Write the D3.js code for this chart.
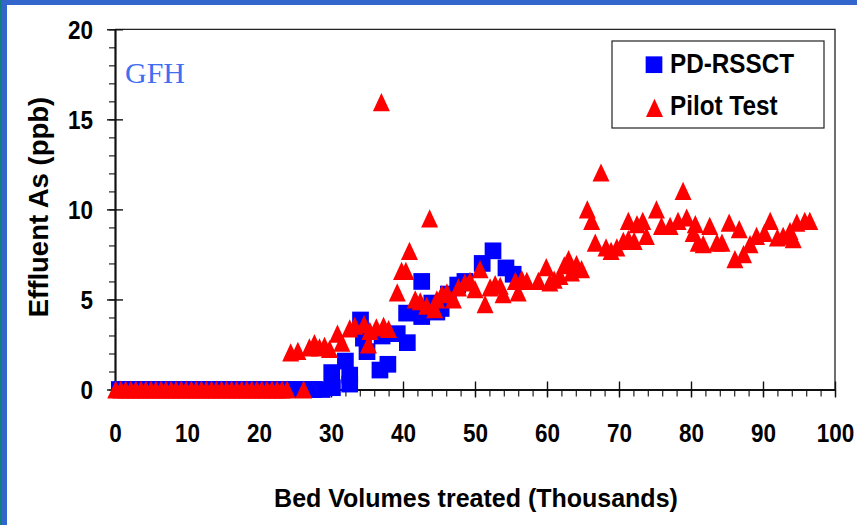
<!DOCTYPE html>
<html><head><meta charset="utf-8">
<script src="https://cdn.jsdelivr.net/npm/d3@7"></script>
<style>body{margin:0;background:#fff}svg{display:block}</style>
</head><body>
<svg id="chart" width="857" height="525"></svg>
<script>
// ---------- data ----------
const seriesNames = ["PD-RSSCT", "Pilot Test"];
const xTicks = [0,10,20,30,40,50,60,70,80,90,100];
const yTicks = [0,5,10,15,20];

const rssctX = [0.6,1.5,2.4,3.3,4.2,5.1,6.0,6.9,7.8,8.7,9.6,10.5,11.4,12.3,13.2,14.1,15.0,15.9,16.8,17.7,18.6,19.5,20.4,21.3,22.2,23.1,24.0,24.9,25.8,26.7,27.6,
  28.75,30.1,30.2,32.0,32.6,32.6,34.1,34.5,35.0,36.8,37.9,37.1,39.2,40.6,40.5,42.6,42.6,44.0,44.7,45.3,46.3,47.6,48.6,51.0,52.5,54.3,55.3];
const rssctY = [0,0,0,0,0,0,0,0,0,0,0,0,0,0,0,0,0,0,0,0,0,0,0,0,0,0,0,0,0,0,0,
  0,0.94,0.1,1.58,0.8,0.3,3.86,2.85,2.1,1.08,1.4,2.97,3.1,2.6,4.24,6.0,4.05,4.8,4.3,4.5,5.3,5.8,6.0,7.0,7.7,6.75,6.4];

const pilotX = [0.1,0.8,1.5,2.2,2.9,3.6,4.3,5.0,5.7,6.4,7.1,7.8,8.5,9.2,9.9,10.6,11.3,12.0,12.7,13.4,14.1,14.8,15.5,16.2,16.9,17.6,18.3,19.0,19.7,20.4,21.1,21.8,22.5,23.2,23.9,26.2,
  24.4,25.4,27.0,27.7,28.4,29.1,29.8,30.9,31.5,32.6,33.3,34.6,35.2,35.4,36.3,37.0,37.3,38.0,
  39.2,39.8,40.4,40.9,41.7,42.4,43.3,43.7,44.4,44.7,45.4,46.1,47.0,47.7,48.6,49.3,50.0,50.7,51.4,52.1,52.8,53.5,53.9,55.6,56.0,56.5,57.2,
  58.8,59.9,60.4,61.0,61.8,62.4,63.0,63.4,64.1,64.8,
  65.6,66.2,66.7,67.5,68.2,68.9,69.7,70.6,71.3,72.1,71.3,72.5,73.3,73.8,75.2,75.9,77.1,78.2,78.9,79.4,80.6,80.3,
  81.0,81.7,82.6,83.6,84.3,85.3,86.7,86.1,87.3,88.2,89.1,90.2,91.0,92.0,92.8,93.75,94.2,94.7,95.8,96.5];
const pilotY = [0,0,0,0,0,0,0,0,0,0,0,0,0,0,0,0,0,0,0,0,0,0,0,0,0,0,0,0,0,0,0,0,0,0,0,0,
  2.06,2.15,2.34,2.58,2.34,2.43,2.25,3.1,2.6,3.39,3.54,3.63,2.5,3.26,3.45,15.96,3.54,3.36,
  5.39,6.59,6.59,7.7,5.0,4.9,4.65,9.5,4.46,5.0,5.3,5.39,5.0,5.67,5.94,6.03,5.57,6.68,4.74,5.67,5.85,5.76,5.3,6.03,5.39,6.13,6.03,
  6.03,6.8,5.94,6.1,6.31,6.9,7.24,6.5,6.96,6.68,
  10.0,9.36,8.16,12.05,7.89,7.7,7.89,8.25,8.35,8.25,9.36,9.18,9.36,8.53,10.0,9.08,9.08,9.36,11.03,9.55,9.18,8.7,
  8.16,8.07,9.08,8.16,8.16,9.27,8.9,7.24,7.52,8.07,8.53,8.7,9.36,8.44,8.53,8.8,8.35,9.27,9.36,9.36];

// ---------- drawing ----------
const svg = d3.select("#chart");
const FONT = "'Liberation Sans', Arial, sans-serif";
const BLUE = "#0000ff", RED = "#ff0000";

svg.append("rect").attr("width",857).attr("height",525).attr("fill","#fff");
svg.append("rect").attr("x",0).attr("y",0).attr("width",857).attr("height",5).attr("fill","#3366cc");
svg.append("rect").attr("x",0).attr("y",0).attr("width",7).attr("height",525).attr("fill","#3366cc");
svg.append("rect").attr("x",0).attr("y",0).attr("width",2).attr("height",525).attr("fill","#12807a");

const x = d3.scaleLinear().domain([0,100]).range([115,835]);
const y = d3.scaleLinear().domain([0,20]).range([389.5,29.3]);

// plot frame (top and right)
svg.append("path")
  .attr("d",`M${x(0)},${y(20)}H${x(100)}V${y(0)}`)
  .attr("fill","none").attr("stroke","#222").attr("stroke-width",1.3);

// minor ticks
svg.append("g").attr("transform",`translate(${x(0)},0)`)
  .call(d3.axisLeft(y).tickValues(d3.range(0,21,1)).tickSize(6).tickFormat("").tickSizeOuter(0))
  .call(g=>{g.select(".domain").remove(); g.selectAll("line").attr("stroke","#222").attr("stroke-width",1.2);});
svg.append("g").attr("transform",`translate(0,${y(0)})`)
  .call(d3.axisBottom(x).tickValues(d3.range(0,101,2)).tickSize(7).tickFormat("").tickSizeOuter(0))
  .call(g=>{g.select(".domain").remove(); g.selectAll("line").attr("stroke","#222").attr("stroke-width",1.2);});

// major axes
const yAx = svg.append("g").attr("transform",`translate(${x(0)},0)`)
  .call(d3.axisLeft(y).tickValues(yTicks).tickSizeInner(8).tickSizeOuter(0).tickPadding(14));
yAx.selectAll(".tick").append("line").attr("x1",0).attr("x2",8);
const xAx = svg.append("g").attr("transform",`translate(0,${y(0)})`)
  .call(d3.axisBottom(x).tickValues(xTicks).tickSizeInner(8).tickSizeOuter(0));
xAx.selectAll(".tick").append("line").attr("y1",0).attr("y2",-8);

[yAx,xAx].forEach(ax=>{
  ax.select(".domain").attr("stroke","#111").attr("stroke-width",2.2);
  ax.selectAll(".tick line").attr("stroke","#111").attr("stroke-width",1.4);
  ax.selectAll("text").attr("font-family",FONT).attr("font-weight","bold")
    .attr("font-size",22.5).attr("fill","#000");
});
yAx.selectAll("text").attr("x",null).attr("dy",null)
  .attr("transform","translate(-22,9.3) scale(1,1.15)");
xAx.selectAll("text").attr("y",null).attr("dy",null)
  .attr("transform","translate(0,52) scale(1,1.15)");

// axis titles
svg.append("text").attr("x",476).attr("y",506.5).attr("text-anchor","middle")
  .attr("font-family",FONT).attr("font-weight","bold").attr("font-size",25)
  .text("Bed Volumes treated (Thousands)");
svg.append("text").attr("transform","translate(48,207) rotate(-90)").attr("text-anchor","middle")
  .attr("font-family",FONT).attr("font-weight","bold").attr("font-size",27.5)
  .text("Effluent As (ppb)");

// GFH label
svg.append("text").attr("x",125).attr("y",83.3)
  .attr("font-family","'Liberation Serif', 'Times New Roman', serif").attr("font-size",30)
  .attr("fill","#3f6ff0").text("GFH");

// markers
const SQ = 16.7, TW = 17, TH = 18.2;
const squarePath = `M${-SQ/2},${-SQ/2}h${SQ}v${SQ}h${-SQ}Z`;
const triPath = `M0,${-TH/2}L${TW/2},${TH/2}L${-TW/2},${TH/2}Z`;

const rssct = rssctX.map((v,i)=>({x:v,y:rssctY[i]}));
const pilot = pilotX.map((v,i)=>({x:v,y:pilotY[i]}));

svg.append("g").selectAll("path").data(rssct).join("path")
  .attr("d",squarePath).attr("fill",BLUE)
  .attr("transform",d=>`translate(${x(d.x)},${y(d.y)})`);
svg.append("g").selectAll("path").data(pilot).join("path")
  .attr("d",triPath).attr("fill",RED)
  .attr("transform",d=>`translate(${x(d.x)},${y(d.y)})`);

// legend
const lg = svg.append("g");
lg.append("rect").attr("x",612).attr("y",41).attr("width",212).attr("height",87)
  .attr("fill","#fff").attr("stroke","#222").attr("stroke-width",1.2);
lg.append("path").attr("d",squarePath).attr("fill",BLUE).attr("transform","translate(654,64.7)");
lg.append("path").attr("d",triPath).attr("fill",RED).attr("transform","translate(654.5,107.8)");
[[seriesNames[0],73.3],[seriesNames[1],115]].forEach(([t,by])=>{
  lg.append("text").attr("transform",`translate(670,${by}) scale(1,1.15)`)
    .attr("font-family",FONT).attr("font-weight","bold").attr("font-size",24.3).text(t);
});
</script>
</body></html>
